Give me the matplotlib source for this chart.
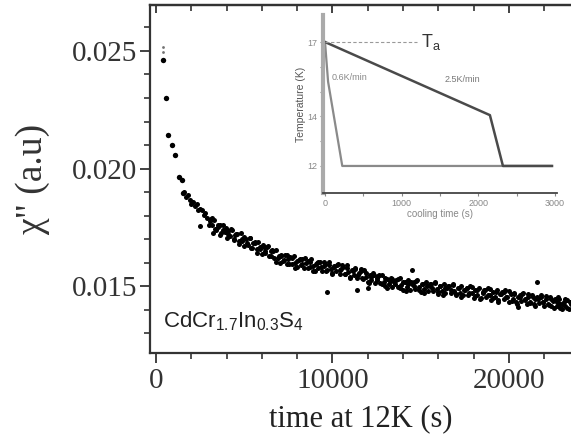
import matplotlib
matplotlib.use("Agg")
import matplotlib.pyplot as plt
import numpy as np
from matplotlib.ticker import MultipleLocator, FixedLocator, NullFormatter

plt.rcParams['font.family'] = 'Liberation Serif'
plt.rcParams['mathtext.fontset'] = 'custom'
plt.rcParams['mathtext.rm'] = 'Liberation Sans'
plt.rcParams['mathtext.it'] = 'Liberation Sans:italic'

# relaxation of chi'' at 12 K (time in s, chi'' in 1e-3 a.u.)
t_early = [380, 567, 697, 889, 1076, 1320, 1456, 1547]
chi_early = [24.62, 23.01, 21.43, 21.00, 20.57, 19.65, 19.51, 18.96]

t_faint = [380, 380]
chi_faint = [25.18, 24.95]

t_s = [1600, 1700, 1800, 1900, 2000, 2100, 2200, 2300, 2400, 2500,
       2600, 2700, 2800, 2900, 3000, 3100, 3200, 3300, 3400, 3500,
       3600, 3700, 3800, 3900, 4000, 4100, 4200, 4300, 4400, 4500,
       4600, 4700, 4800, 4900, 5000, 5100, 5200, 5300, 5400, 5500,
       5600, 5700, 5800, 5900, 6000, 6100, 6200, 6300, 6400, 6500,
       6600, 6700, 6800, 6900, 7000, 7100, 7200, 7300, 7400, 7500,
       7600, 7700, 7800, 7900, 8000, 8100, 8200, 8300, 8400, 8500,
       8600, 8700, 8800, 8900, 9000, 9100, 9200, 9300, 9400, 9500,
       9600, 9700, 9800, 9900, 10000, 10100, 10200, 10300, 10400, 10500,
       10600, 10700, 10800, 10900, 11000, 11100, 11200, 11300, 11400, 11500,
       11600, 11700, 11800, 11900, 12000, 12100, 12200, 12300, 12400, 12500,
       12600, 12700, 12800, 12900, 13000, 13100, 13200, 13300, 13400, 13500,
       13600, 13700, 13800, 13900, 14000, 14100, 14200, 14300, 14400, 14500,
       14600, 14700, 14800, 14900, 15000, 15100, 15200, 15300, 15400, 15500,
       15600, 15700, 15800, 15900, 16000, 16100, 16200, 16300, 16400, 16500,
       16600, 16700, 16800, 16900, 17000, 17100, 17200, 17300, 17400, 17500,
       17600, 17700, 17800, 17900, 18000, 18100, 18200, 18300, 18400, 18500,
       18600, 18700, 18800, 18900, 19000, 19100, 19200, 19300, 19400, 19500,
       19600, 19700, 19800, 19900, 20000, 20100, 20200, 20300, 20400, 20500,
       20600, 20700, 20800, 20900, 21000, 21100, 21200, 21300, 21400, 21500,
       21600, 21700, 21800, 21900, 22000, 22100, 22200, 22300, 22400, 22500,
       22600, 22700, 22800, 22900, 23000, 23100, 23200, 23300, 23400, 23500]
chi = [18.98, 18.77, 18.88, 18.67, 18.50, 18.59, 18.41, 18.49, 18.23, 18.27,
       18.23, 18.01, 18.12, 17.90, 17.61, 17.86, 17.59, 17.82, 17.37, 17.53,
       17.58, 17.27, 17.60, 17.28, 17.06, 17.34, 17.11, 17.37, 16.96, 17.15,
       17.21, 16.90, 17.24, 16.92, 16.71, 17.00, 16.76, 17.03, 16.61, 16.81,
       16.86, 16.56, 16.89, 16.58, 16.36, 16.65, 16.42, 16.68, 16.27, 16.47,
       16.52, 16.20, 16.53, 16.20, 15.98, 16.28, 16.06, 16.34, 15.94, 16.15,
       16.22, 15.93, 16.29, 15.99, 15.79, 16.10, 15.88, 16.17, 15.78, 16.00,
       16.07, 15.79, 16.15, 15.85, 15.66, 15.97, 15.76, 16.04, 15.65, 15.87,
       15.95, 15.67, 16.02, 15.73, 15.54, 15.85, 15.63, 15.92, 15.52, 15.74,
       15.82, 15.53, 15.89, 15.59, 15.40, 15.70, 15.48, 15.75, 15.35, 15.56,
       15.63, 15.34, 15.68, 15.38, 15.18, 15.48, 15.26, 15.54, 15.14, 15.35,
       15.42, 15.13, 15.48, 15.18, 14.98, 15.29, 15.07, 15.36, 14.96, 15.18,
       15.26, 14.97, 15.33, 15.03, 14.84, 15.15, 14.94, 15.24, 14.85, 15.07,
       15.15, 14.87, 15.24, 14.95, 14.76, 15.07, 14.86, 15.16, 14.77, 14.99,
       15.07, 14.79, 15.16, 14.87, 14.68, 14.99, 14.78, 15.08, 14.69, 14.91,
       14.99, 14.71, 15.08, 14.79, 14.60, 14.91, 14.70, 14.99, 14.60, 14.82,
       14.90, 14.62, 14.98, 14.69, 14.50, 14.81, 14.60, 14.90, 14.51, 14.73,
       14.81, 14.53, 14.90, 14.61, 14.42, 14.73, 14.52, 14.81, 14.42, 14.65,
       14.73, 14.45, 14.81, 14.52, 14.33, 14.64, 14.43, 14.72, 14.33, 14.55,
       14.63, 14.35, 14.71, 14.42, 14.23, 14.54, 14.33, 14.62, 14.23, 14.46,
       14.54, 14.26, 14.62, 14.33, 14.14, 14.45, 14.24, 14.53, 14.14, 14.36,
       14.44, 14.16, 14.52, 14.23, 14.04, 14.34, 14.13, 14.41, 14.02, 14.25]

# second sweep of the same run, read between the first one
t_s2 = [3050, 3200, 3350, 3500, 3650, 3800, 3950, 4100, 4250, 4400,
        4550, 4700, 4850, 5000, 5150, 5300, 5450, 5600, 5750, 5900,
        6050, 6200, 6350, 6500, 6650, 6800, 6950, 7100, 7250, 7400,
        7550, 7700, 7850, 8000, 8150, 8300, 8450, 8600, 8750, 8900,
        9050, 9200, 9350, 9500, 9650, 9800, 9950, 10100, 10250, 10400,
        10550, 10700, 10850, 11000, 11150, 11300, 11450, 11600, 11750, 11900,
        12050, 12200, 12350, 12500, 12650, 12800, 12950, 13100, 13250, 13400,
        13550, 13700, 13850, 14000, 14150, 14300, 14450, 14600, 14750, 14900,
        15050, 15200, 15350, 15500, 15650, 15800, 15950, 16100, 16250, 16400,
        16550, 16700, 16850, 17000, 17150, 17300, 17450, 17600, 17750, 17900,
        18050, 18200, 18350, 18500, 18650, 18800, 18950, 19100, 19250, 19400,
        19550, 19700, 19850, 20000, 20150, 20300, 20450, 20600, 20750, 20900,
        21050, 21200, 21350, 21500, 21650, 21800, 21950, 22100, 22250, 22400,
        22550, 22700, 22850, 23000, 23150, 23300, 23450]
chi2 = [17.77, 17.91, 17.43, 17.60, 17.16, 17.40, 17.46, 17.21, 17.41, 16.98,
        17.21, 16.77, 17.02, 17.09, 16.85, 17.05, 16.62, 16.84, 16.41, 16.66,
        16.73, 16.49, 16.69, 16.26, 16.48, 16.03, 16.26, 16.34, 16.12, 16.34,
        15.93, 16.18, 15.78, 16.05, 16.15, 15.94, 16.18, 15.77, 16.04, 15.63,
        15.92, 16.02, 15.81, 16.04, 15.65, 15.90, 15.51, 15.79, 15.89, 15.67,
        15.91, 15.50, 15.76, 15.36, 15.63, 15.71, 15.49, 15.71, 15.30, 15.54,
        15.13, 15.40, 15.49, 15.27, 15.49, 15.08, 15.33, 14.93, 15.21, 15.30,
        15.10, 15.32, 14.92, 15.18, 14.79, 15.08, 15.19, 14.98, 15.22, 14.83,
        15.10, 14.70, 15.00, 15.10, 14.90, 15.14, 14.75, 15.01, 14.62, 14.91,
        15.02, 14.81, 15.06, 14.66, 14.93, 14.53, 14.82, 14.92, 14.72, 14.95,
        14.56, 14.82, 14.44, 14.72, 14.83, 14.63, 14.87, 14.47, 14.74, 14.34,
        14.64, 14.74, 14.54, 14.77, 14.38, 14.64, 14.25, 14.53, 14.64, 14.43,
        14.67, 14.27, 14.54, 14.15, 14.44, 14.54, 14.34, 14.57, 14.18, 14.44,
        14.05, 14.33, 14.44, 14.23, 14.46, 14.05, 14.32]

t_out = [2493, 3230, 9690, 11390, 12010, 14500, 20510, 21590, 22900]
chi_out = [17.55, 17.26, 14.75, 14.83, 14.92, 15.68, 14.11, 15.17, 14.05]

# cooling protocols for the inset
fast_t = [0, 40, 225, 2950]
fast_T = [17, 15.4, 12, 12]
slow_t = [0, 2150, 2320, 2960]
slow_T = [17, 14.05, 12, 12]

fig = plt.figure(figsize=(5.71, 4.46), dpi=100)
ax = fig.add_axes([0.2627, 0.2085, 0.7373, 0.7803])

ms = 13
ax.scatter(t_early, np.array(chi_early) * 1e-3, s=15, c='k', lw=0)
ax.scatter(t_s, np.array(chi) * 1e-3, s=ms, c='k', lw=0)
ax.scatter(t_s2, np.array(chi2) * 1e-3, s=ms, c='k', lw=0)
ax.scatter(t_out, np.array(chi_out) * 1e-3, s=ms, c='k', lw=0)
ax.scatter(t_faint, np.array(chi_faint) * 1e-3, s=4, c='0.45', lw=0)

ax.set_xlim(-340, 23514)
ax.set_ylim(0.01215, 0.026957)
ax.xaxis.set_major_locator(FixedLocator([0, 10000, 20000]))
ax.xaxis.set_minor_locator(MultipleLocator(2000))
ax.yaxis.set_major_locator(FixedLocator([0.015, 0.020, 0.025]))
ax.yaxis.set_minor_locator(MultipleLocator(0.001))
ax.set_yticklabels(['0.015', '0.020', '0.025'])
ax.tick_params(axis='both', which='major', labelsize=21, width=1.3, length=7, colors='#333333')
ax.tick_params(axis='both', which='minor', width=1.2, length=4, colors='#333333')
ax.tick_params(axis='x', which='both', direction='out', pad=4)
ax.tick_params(axis='y', which='both', direction='out', pad=2)
ax.spines['right'].set_visible(False)
for s in ['left', 'bottom', 'top']:
    ax.spines[s].set_linewidth(1.6)
    ax.spines[s].set_color('#333333')

# inward ticks along the top edge
top = ax.secondary_xaxis('top')
top.xaxis.set_major_locator(FixedLocator([0, 10000, 20000]))
top.xaxis.set_minor_locator(MultipleLocator(2000))
top.xaxis.set_major_formatter(NullFormatter())
top.tick_params(which='major', direction='in', length=6, width=1.3, colors='#333333')
top.tick_params(which='minor', direction='in', length=4, width=1.2, colors='#333333')
top.spines['top'].set_linewidth(1.6)
top.spines['top'].set_color('#333333')

ax.set_xlabel('time at 12K (s)', fontsize=22, color='#222222', labelpad=7)
ax.set_ylabel('χ" (a.u)', fontsize=27, color='#333333', labelpad=16)
ax.text(0.03, 0.075, r'CdCr$_{\mathregular{1.7}}$In$_{\mathregular{0.3}}$S$_{\mathregular{4}}$',
        transform=ax.transAxes, fontsize=16, family='Liberation Sans', color='#222222')

# inset: temperature protocol
ins = fig.add_axes([0.5657, 0.5673, 0.4098, 0.3991])
ins.patch.set_alpha(0)
ins.plot(fast_t, fast_T, color='#8a8a8a', lw=1.6)
ins.plot(slow_t, slow_T, color='#4a4a4a', lw=1.8)
ins.plot([0, 1200], [17, 17], color='#999999', lw=0.8, ls=(0, (3, 2)))
ins.text(1250, 17, r'T$_\mathregular{a}$', fontsize=13, color='#333333', va='center',
         family='Liberation Sans')
ins.text(90, 15.55, '0.6K/min', fontsize=6.5, color='#888888', va='center',
         family='Liberation Sans')
ins.text(1560, 15.5, '2.5K/min', fontsize=6.5, color='#777777', va='center',
         family='Liberation Sans')
ins.set_xlim(-26, 3025)
ins.set_ylim(10.91, 18.09)
ins.xaxis.set_major_locator(FixedLocator([0, 1000, 2000, 3000]))
ins.xaxis.set_minor_locator(MultipleLocator(500))
ins.yaxis.set_major_locator(FixedLocator([12, 14, 17]))
ins.yaxis.set_minor_locator(FixedLocator([13, 15, 16]))
ins.tick_params(which='both', labelsize=6.5, colors='#888888', direction='out',
                length=2.5, width=0.8, pad=1.5)
for lbl in ins.get_xticklabels() + ins.get_yticklabels():
    lbl.set_family('Liberation Sans')
ins.set_xlabel('cooling time (s)', fontsize=7, color='#888888', family='Liberation Sans',
               labelpad=1)
ins.set_ylabel('Temperature (K)', fontsize=7.5, color='#555555', family='Liberation Sans',
               labelpad=1)
ins.spines['top'].set_visible(False)
ins.spines['right'].set_visible(False)
ins.spines['left'].set_color('#aaaaaa')
ins.spines['left'].set_linewidth(3)
ins.spines['bottom'].set_color('#444444')
ins.spines['bottom'].set_linewidth(1.3)

fig.savefig('out.png', dpi=100)
